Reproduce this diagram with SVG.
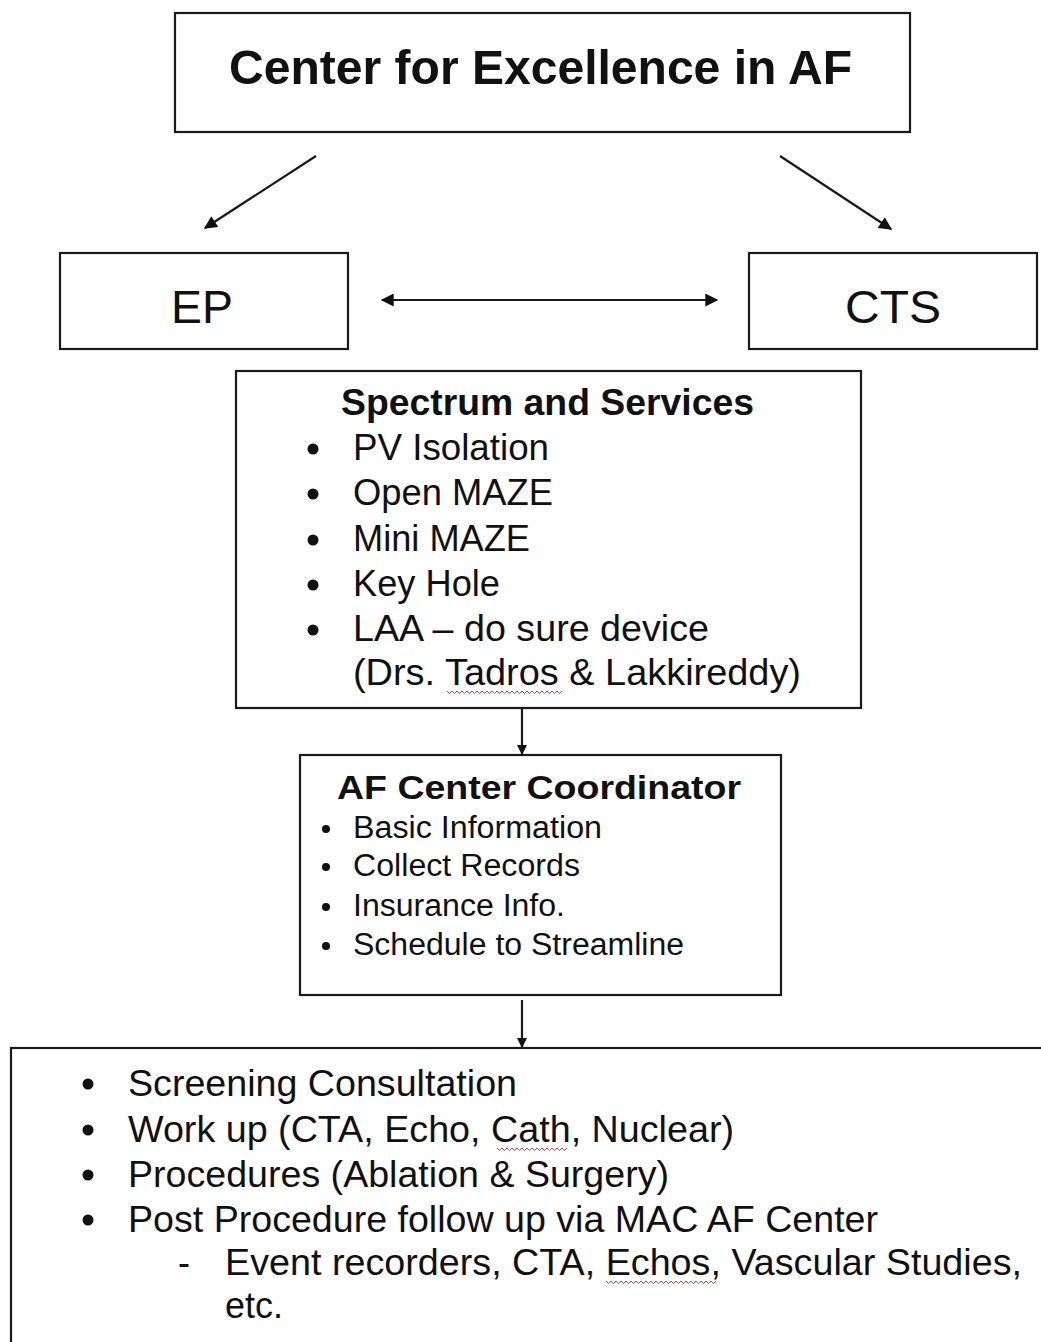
<svg xmlns="http://www.w3.org/2000/svg" width="1041" height="1342" viewBox="0 0 1041 1342">
<style>
.box{fill:#fff;stroke:#1a1a1a;stroke-width:2.2}
.t{font-family:"Liberation Sans",Arial,sans-serif;fill:#111}
.b{font-weight:bold}
.big{font-size:36px}
.sm{font-size:31px}
.con{stroke:#1a1a1a;stroke-width:2.2;fill:none}
.sq{stroke:#d04040;stroke-width:1;fill:none}
</style>
<defs>
<marker id="ah" viewBox="0 0 10 10" refX="9" refY="5" markerWidth="10" markerHeight="10" markerUnits="userSpaceOnUse" orient="auto-start-reverse">
<path d="M0,0 L10,5 L0,10 z" fill="#111"/>
</marker>
<marker id="ahb" viewBox="0 0 10 10" refX="9" refY="5" markerWidth="14" markerHeight="13" markerUnits="userSpaceOnUse" orient="auto-start-reverse">
<path d="M0,0 L10,5 L0,10 z" fill="#111"/>
</marker>
</defs>
<rect width="1041" height="1342" fill="#fff"/>

<g id="center">
<rect class="box" x="175" y="13" width="735" height="119"/>
<text class="t b" x="229" y="84" font-size="48" textLength="623" lengthAdjust="spacingAndGlyphs">Center for Excellence in AF</text>
</g>

<g id="ep">
<rect class="box" x="60" y="253" width="288" height="96"/>
<text class="t" x="171" y="323" font-size="46" textLength="62" lengthAdjust="spacingAndGlyphs">EP</text>
</g>

<g id="cts">
<rect class="box" x="749" y="253" width="288" height="96"/>
<text class="t" x="845" y="323" font-size="46" textLength="96" lengthAdjust="spacingAndGlyphs">CTS</text>
</g>

<g id="spectrum">
<rect class="box" x="236" y="371" width="625" height="337"/>
<text class="t b big" x="341" y="415" textLength="413" lengthAdjust="spacingAndGlyphs">Spectrum and Services</text>
<circle cx="313" cy="449" r="5.5" fill="#111"/>
<circle cx="313" cy="494" r="5.5" fill="#111"/>
<circle cx="313" cy="540" r="5.5" fill="#111"/>
<circle cx="313" cy="585" r="5.5" fill="#111"/>
<circle cx="313" cy="630" r="5.5" fill="#111"/>
<text class="t big" x="353" y="460" textLength="196" lengthAdjust="spacingAndGlyphs">PV Isolation</text>
<text class="t big" x="353" y="505" textLength="200" lengthAdjust="spacingAndGlyphs">Open MAZE</text>
<text class="t big" x="353" y="551" textLength="177" lengthAdjust="spacingAndGlyphs">Mini MAZE</text>
<text class="t big" x="353" y="596" textLength="147" lengthAdjust="spacingAndGlyphs">Key Hole</text>
<text class="t big" x="353" y="641" textLength="356" lengthAdjust="spacingAndGlyphs">LAA – do sure device</text>
<text class="t big" x="353" y="685" textLength="448" lengthAdjust="spacingAndGlyphs">(Drs. Tadros &amp; Lakkireddy)</text>
<path class="sq" d="M447,691 l2.5,2.5 l2.5,-2.5 l2.5,2.5 l2.5,-2.5 l2.5,2.5 l2.5,-2.5 l2.5,2.5 l2.5,-2.5 l2.5,2.5 l2.5,-2.5 l2.5,2.5 l2.5,-2.5 l2.5,2.5 l2.5,-2.5 l2.5,2.5 l2.5,-2.5 l2.5,2.5 l2.5,-2.5 l2.5,2.5 l2.5,-2.5 l2.5,2.5 l2.5,-2.5 l2.5,2.5 l2.5,-2.5 l2.5,2.5 l2.5,-2.5 l2.5,2.5 l2.5,-2.5 l2.5,2.5 l2.5,-2.5 l2.5,2.5 l2.5,-2.5 l2.5,2.5 l2.5,-2.5 l2.5,2.5 l2.5,-2.5 l2.5,2.5 l2.5,-2.5 l2.5,2.5 l2.5,-2.5 l2.5,2.5 l2.5,-2.5 l2.5,2.5 l2.5,-2.5 l2.5,2.5 l2.5,-2.5"/>
</g>

<g id="coordinator">
<rect class="box" x="300" y="755" width="481" height="240"/>
<text class="t b" x="337" y="799" font-size="34" textLength="404" lengthAdjust="spacingAndGlyphs">AF Center Coordinator</text>
<circle cx="326" cy="829" r="4" fill="#111"/>
<circle cx="326" cy="867" r="4" fill="#111"/>
<circle cx="326" cy="907" r="4" fill="#111"/>
<circle cx="326" cy="946" r="4" fill="#111"/>
<text class="t sm" x="353" y="838" textLength="249" lengthAdjust="spacingAndGlyphs">Basic Information</text>
<text class="t sm" x="353" y="876" textLength="227" lengthAdjust="spacingAndGlyphs">Collect Records</text>
<text class="t sm" x="353" y="916" textLength="212" lengthAdjust="spacingAndGlyphs">Insurance Info.</text>
<text class="t sm" x="353" y="955" textLength="331" lengthAdjust="spacingAndGlyphs">Schedule to Streamline</text>
</g>

<g id="process">
<rect class="box" x="11" y="1048" width="1060" height="320"/>
<circle cx="88" cy="1084" r="5.5" fill="#111"/>
<circle cx="88" cy="1130" r="5.5" fill="#111"/>
<circle cx="88" cy="1175" r="5.5" fill="#111"/>
<circle cx="88" cy="1220" r="5.5" fill="#111"/>
<text class="t big" x="128" y="1096" textLength="389" lengthAdjust="spacingAndGlyphs">Screening Consultation</text>
<text class="t big" x="128" y="1142" textLength="606" lengthAdjust="spacingAndGlyphs">Work up (CTA, Echo, Cath, Nuclear)</text>
<text class="t big" x="128" y="1187" textLength="541" lengthAdjust="spacingAndGlyphs">Procedures (Ablation &amp; Surgery)</text>
<text class="t big" x="128" y="1232" textLength="750" lengthAdjust="spacingAndGlyphs">Post Procedure follow up via MAC AF Center</text>
<text class="t big" x="178" y="1275">-</text>
<text class="t big" x="225" y="1275" textLength="797" lengthAdjust="spacingAndGlyphs">Event recorders, CTA, Echos, Vascular Studies,</text>
<text class="t big" x="225" y="1318" textLength="58" lengthAdjust="spacingAndGlyphs">etc.</text>
<path class="sq" d="M497,1148 l2.5,2.5 l2.5,-2.5 l2.5,2.5 l2.5,-2.5 l2.5,2.5 l2.5,-2.5 l2.5,2.5 l2.5,-2.5 l2.5,2.5 l2.5,-2.5 l2.5,2.5 l2.5,-2.5 l2.5,2.5 l2.5,-2.5 l2.5,2.5 l2.5,-2.5 l2.5,2.5 l2.5,-2.5 l2.5,2.5 l2.5,-2.5 l2.5,2.5 l2.5,-2.5 l2.5,2.5 l2.5,-2.5 l2.5,2.5 l2.5,-2.5 l2.5,2.5 l2.5,-2.5"/>
<path class="sq" d="M606,1281 l2.5,2.5 l2.5,-2.5 l2.5,2.5 l2.5,-2.5 l2.5,2.5 l2.5,-2.5 l2.5,2.5 l2.5,-2.5 l2.5,2.5 l2.5,-2.5 l2.5,2.5 l2.5,-2.5 l2.5,2.5 l2.5,-2.5 l2.5,2.5 l2.5,-2.5 l2.5,2.5 l2.5,-2.5 l2.5,2.5 l2.5,-2.5 l2.5,2.5 l2.5,-2.5 l2.5,2.5 l2.5,-2.5 l2.5,2.5 l2.5,-2.5 l2.5,2.5 l2.5,-2.5 l2.5,2.5 l2.5,-2.5 l2.5,2.5 l2.5,-2.5 l2.5,2.5 l2.5,-2.5 l2.5,2.5 l2.5,-2.5 l2.5,2.5 l2.5,-2.5 l2.5,2.5 l2.5,-2.5 l2.5,2.5 l2.5,-2.5 l2.5,2.5 l2.5,-2.5"/>
</g>

<g id="connectors">
<line class="con" x1="316" y1="156" x2="205" y2="228" marker-end="url(#ahb)"/>
<line class="con" x1="780" y1="156" x2="891" y2="229" marker-end="url(#ahb)"/>
<line class="con" x1="382" y1="300" x2="717" y2="300" marker-start="url(#ahb)" marker-end="url(#ahb)"/>
<line class="con" x1="522" y1="709" x2="522" y2="754" marker-end="url(#ah)"/>
<line class="con" x1="522" y1="1000" x2="522" y2="1047" marker-end="url(#ah)"/>
</g>
</svg>
